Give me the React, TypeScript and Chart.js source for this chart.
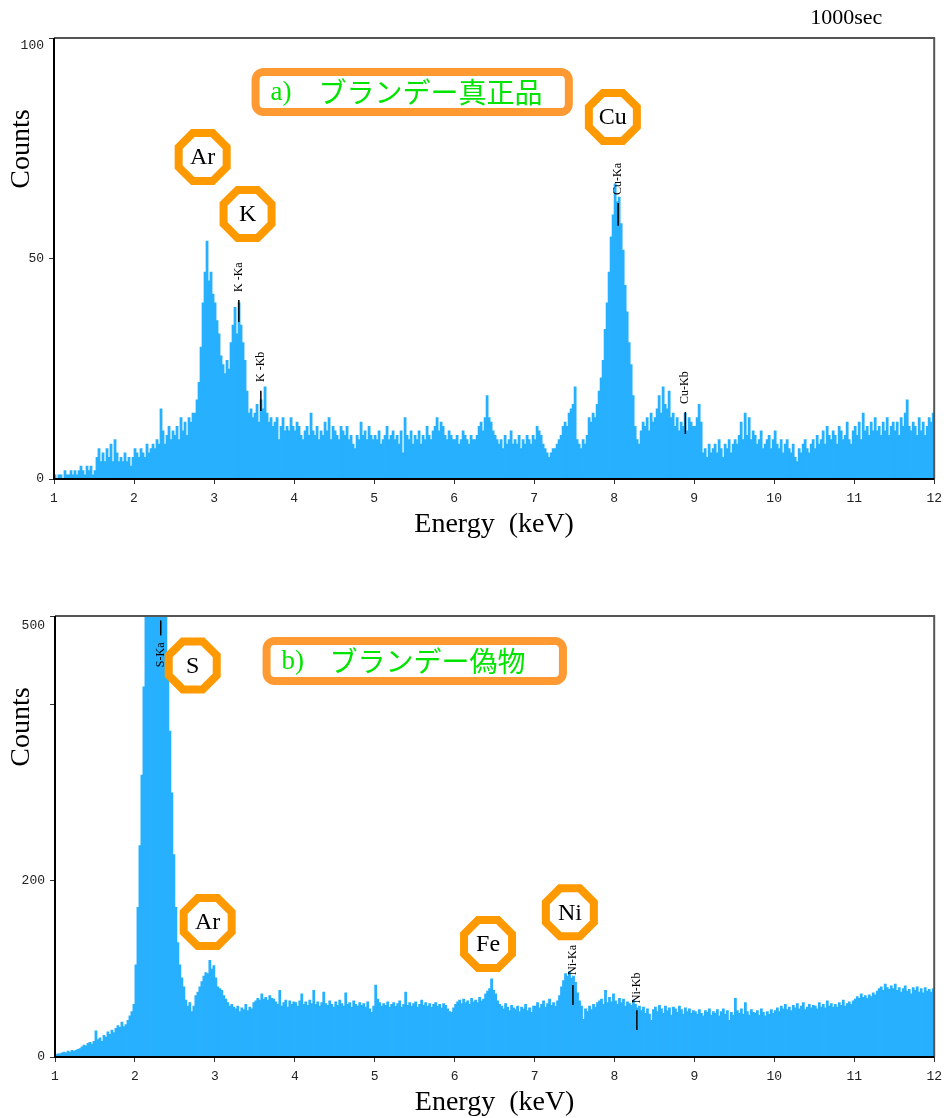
import React, { useEffect, useRef } from 'react';
import { Chart, registerables } from 'chart.js';

Chart.register(...registerables);

// ---- data ----
const binStart = 1.0;
const binWidth = 0.025; // keV per channel group
const energyTicks = [1, 2, 3, 4, 5, 6, 7, 8, 9, 10, 11, 12];

// a) genuine brandy, counts per bin (1.000 .. 11.975 keV)
const genuineCounts = [
  1, 0, 1, 1, 0, 2, 1, 1, 2, 1, 2, 1, 2, 3, 2, 1, 3, 2, 3, 1,
  2, 5, 7, 4, 6, 4, 7, 5, 8, 4, 9, 6, 4, 5, 4, 6, 4, 5, 3, 5,
  7, 6, 5, 7, 6, 5, 8, 6, 7, 8, 7, 9, 8, 16, 11, 8, 10, 12, 9, 11,
  10, 12, 9, 14, 11, 13, 10, 14, 13, 15, 15, 18, 22, 30, 40, 47, 54, 45, 47, 42,
  40, 36, 33, 28, 26, 24, 27, 25, 31, 35, 39, 33, 40, 35, 31, 27, 20, 15, 16, 14,
  15, 17, 13, 18, 16, 21, 15, 13, 14, 12, 13, 14, 9, 12, 14, 11, 12, 11, 14, 12,
  11, 13, 12, 10, 9, 11, 12, 10, 15, 11, 10, 12, 9, 11, 10, 13, 11, 14, 9, 12,
  11, 10, 9, 12, 11, 10, 12, 9, 10, 8, 7, 10, 9, 13, 10, 11, 9, 12, 10, 9,
  10, 9, 11, 8, 9, 10, 12, 9, 10, 11, 9, 10, 8, 11, 6, 14, 10, 9, 11, 8,
  10, 9, 11, 8, 10, 9, 12, 10, 9, 11, 12, 14, 11, 13, 12, 10, 9, 11, 10, 9,
  9, 10, 8, 9, 11, 10, 9, 8, 10, 9, 9, 10, 12, 13, 11, 14, 19, 14, 13, 11,
  10, 9, 8, 9, 7, 10, 8, 9, 11, 8, 9, 8, 10, 7, 9, 8, 10, 9, 8, 10,
  9, 12, 11, 10, 8, 7, 6, 5, 6, 7, 7, 8, 9, 10, 12, 13, 12, 15, 16, 17,
  21, 9, 8, 7, 9, 8, 10, 14, 13, 15, 14, 17, 20, 23, 27, 34, 40, 47, 55, 60,
  67, 63, 64, 58, 52, 44, 38, 31, 26, 19, 12, 9, 8, 11, 13, 12, 14, 11, 15, 13,
  14, 16, 19, 15, 21, 17, 16, 20, 14, 15, 12, 14, 11, 13, 12, 15, 11, 14, 13, 12,
  12, 14, 17, 13, 6, 7, 5, 8, 6, 7, 8, 6, 9, 7, 5, 8, 7, 9, 6, 8,
  9, 8, 10, 13, 9, 15, 10, 14, 9, 11, 10, 8, 9, 11, 7, 8, 9, 10, 7, 9,
  11, 8, 7, 9, 6, 8, 9, 7, 6, 8, 5, 4, 7, 6, 8, 9, 7, 6, 8, 9,
  7, 10, 8, 9, 11, 8, 12, 10, 9, 11, 10, 8, 12, 11, 9, 10, 13, 9, 8, 11,
  12, 10, 13, 9, 15, 11, 12, 10, 13, 11, 14, 11, 12, 10, 13, 11, 14, 10, 12, 13,
  11, 13, 10, 14, 12, 15, 18, 12, 11, 13, 12, 10, 14, 11, 13, 10, 12, 14, 13, 15,
];

// b) counterfeit brandy, counts per bin (S peak saturates above 500)
const fakeCounts = [
  3, 4, 4, 5, 6, 5, 7, 6, 8, 7, 8, 9, 10, 12, 14, 13, 16, 17, 15, 18,
  30, 20, 22, 18, 25, 23, 29, 26, 31, 28, 33, 36, 34, 40, 35, 37, 42, 47, 52, 60,
  105, 170, 240, 320, 420, 900, 1500, 2200, 2800, 3000, 3100, 2900, 2500, 1800, 1200, 700, 450, 370, 300, 230,
  170, 130, 105, 90, 80, 65, 58, 62, 52, 58, 70, 74, 80, 86, 92, 96, 95, 110, 100, 104,
  90, 80, 78, 76, 70, 66, 62, 58, 60, 57, 55, 58, 52, 56, 54, 60, 53, 57, 55, 62,
  64, 67, 65, 72, 66, 68, 65, 70, 67, 66, 63, 60, 76, 58, 62, 65, 57, 64, 60, 63,
  62, 58, 64, 72, 60, 63, 59, 65, 61, 76, 60, 63, 58, 62, 74, 61, 59, 64, 60, 57,
  63, 59, 65, 61, 58, 73, 60, 62, 57, 64, 60, 58, 62, 59, 61, 57, 63, 55, 51, 58,
  82, 66, 62, 58, 61, 59, 63, 57, 60, 62, 58, 61, 64, 57, 60, 74, 59, 62, 58, 61,
  63, 57, 60, 65, 59, 62, 58, 61, 57, 60, 62, 58, 60, 56, 61, 59, 55, 52, 51, 56,
  60, 63, 65, 61, 66, 62, 64, 60, 67, 63, 65, 62, 68, 64, 66, 72, 75, 78, 89, 76,
  72, 64, 60, 58, 55, 61, 57, 53, 59, 56, 54, 58, 52, 57, 55, 60, 53, 56, 51, 58,
  58, 62, 56, 60, 64, 57, 61, 66, 59, 62, 58, 64, 70, 80, 87, 95, 92, 97, 90, 92,
  85, 73, 64, 58, 43, 55, 52, 58, 54, 60, 57, 62, 64, 66, 60, 76, 62, 68, 63, 72,
  64, 60, 67, 62, 66, 58, 63, 61, 59, 65, 60, 56, 58, 53, 57, 50, 55, 49, 42, 54,
  57, 52, 59, 55, 50, 58, 53, 56, 48, 57, 55, 51, 58, 54, 49, 56, 52, 55, 50, 53,
  52, 49, 54, 50, 47, 53, 51, 55, 48, 52, 50, 54, 47, 52, 55, 49, 53, 42, 51, 48,
  67, 53, 50, 55, 49, 62, 52, 48, 54, 51, 50, 53, 48, 55, 51, 47, 52, 49, 54, 50,
  53, 56, 52, 58, 55, 60, 54, 57, 53, 59, 56, 61, 55, 58, 62, 54, 57, 60, 56, 59,
  58, 55, 62, 57, 60, 56, 64, 58, 61, 57, 60, 57, 62, 59, 65, 58, 61, 63, 60, 64,
  66, 69, 67, 72, 68, 70, 67, 71, 69, 73, 71, 75, 78, 80, 76, 83, 79, 77, 81, 78,
  83, 76, 79, 74, 78, 81, 75, 77, 72, 79, 76, 80, 74, 78, 73, 79, 75, 77, 74, 78,
];

const genuineYTicks = [0, 50, 100];
const fakeYTicks = [0, 200, 400, 500];
const fakeYTickLabels = ['0', '200', '', '500'];

const genuineElements = [
  { label: 'Ar', e: 2.858, c: 73.0 },
  { label: 'K', e: 3.419, c: 60.1 },
  { label: 'Cu', e: 7.984, c: 82.1 },
];
const fakeElements = [
  { label: 'S', e: 2.723, c: 444 },
  { label: 'Ar', e: 2.91, c: 153 },
  { label: 'Fe', e: 6.418, c: 128 },
  { label: 'Ni', e: 7.442, c: 164 },
];

const genuineLines = [
  { label: 'K -Ka', e: 3.31, lo: 35.6, hi: 40.6, text: 42.4 },
  { label: 'K -Kb', e: 3.585, lo: 15.4, hi: 20.0, text: 22.0 },
  { label: 'Cu-Ka', e: 8.05, lo: 57.4, hi: 62.6, text: 64.4 },
  { label: 'Cu-Kb', e: 8.89, lo: 10.2, hi: 15.2, text: 17.0 },
];
const fakeLines = [
  { label: 'S-Ka', e: 2.323, lo: 478, hi: 495, text: 442 },
  { label: 'Ni-Ka', e: 7.48, lo: 59, hi: 81.6, text: 93 },
  { label: 'Ni-Kb', e: 8.28, lo: 30.6, hi: 53, text: 61 },
];

const genuineTitle = { prefix: 'a)', text: 'ブランデー真正品', e0: 3.519, e1: 7.434, cTop: 92.3, cBot: 83.2 };
const fakeTitle = { prefix: 'b)', text: 'ブランデー偽物', e0: 3.647, e1: 7.355, cTop: 471.7, cBot: 426.3 };

// ---- helpers ----
const BAR = '#27B0FE';
const OCT = '#FF9900';
const BOX = '#FF9A33';
const GREEN = '#00E400';
const SERIF = '"Liberation Serif", "DejaVu Serif", serif';
const MONO = '"Liberation Mono", "DejaVu Sans Mono", monospace';
const JP = '"Noto Sans CJK JP", "Noto Sans CJK SC", sans-serif';

function octagonPath(ctx: CanvasRenderingContext2D, cx: number, cy: number, apothem: number) {
  const R = apothem / Math.cos(Math.PI / 8);
  ctx.beginPath();
  for (let k = 0; k < 8; k++) {
    const a = Math.PI / 8 + (k * Math.PI) / 4;
    const px = cx + R * Math.cos(a);
    const py = cy + R * Math.sin(a);
    if (k === 0) ctx.moveTo(px, py);
    else ctx.lineTo(px, py);
  }
  ctx.closePath();
}

function roundRectPath(ctx: CanvasRenderingContext2D, x0: number, y0: number, x1: number, y1: number, r: number) {
  ctx.beginPath();
  ctx.moveTo(x0 + r, y0);
  ctx.lineTo(x1 - r, y0);
  ctx.arcTo(x1, y0, x1, y0 + r, r);
  ctx.lineTo(x1, y1 - r);
  ctx.arcTo(x1, y1, x1 - r, y1, r);
  ctx.lineTo(x0 + r, y1);
  ctx.arcTo(x0, y1, x0, y1 - r, r);
  ctx.lineTo(x0, y0 + r);
  ctx.arcTo(x0, y0, x0 + r, y0, r);
  ctx.closePath();
}

type Cfg = {
  counts: number[];
  yMax: number;
  yTicks: number[];
  yLabels: string[];
  yWidth: number;
  padding: { left: number; right: number; top: number; bottom: number };
  elements: { label: string; e: number; c: number }[];
  lines: { label: string; e: number; lo: number; hi: number; text: number }[];
  title: { prefix: string; text: string; e0: number; e1: number; cTop: number; cBot: number };
  maxLabelOffset: number;
  showTime: boolean;
};

function makeOverlay(cfg: Cfg) {
  return {
    id: 'overlay',
    afterDatasetsDraw(chart: any) {
      const { ctx, chartArea: a } = chart;
      const x = chart.scales.x;
      const y = chart.scales.y;
      ctx.save();

      // frame
      ctx.lineWidth = 2;
      ctx.strokeStyle = '#555';
      ctx.beginPath();
      ctx.moveTo(a.left, a.top);
      ctx.lineTo(a.right, a.top);
      ctx.lineTo(a.right, a.bottom);
      ctx.stroke();
      ctx.strokeStyle = '#000';
      ctx.beginPath();
      ctx.moveTo(a.left, a.top);
      ctx.lineTo(a.left, a.bottom);
      ctx.lineTo(a.right, a.bottom);
      ctx.stroke();

      // top y label (drawn slightly below its tick, as in the original)
      ctx.fillStyle = '#222';
      ctx.font = `13px ${MONO}`;
      ctx.textAlign = 'right';
      ctx.textBaseline = 'middle';
      ctx.fillText(cfg.yLabels[cfg.yLabels.length - 1], a.left - 10, y.getPixelForValue(cfg.yMax) + cfg.maxLabelOffset);

      // axis titles
      ctx.fillStyle = '#000';
      ctx.font = `28px ${SERIF}`;
      ctx.textAlign = 'center';
      ctx.textBaseline = 'middle';
      ctx.fillText('Energy  (keV)', (a.left + a.right) / 2, a.bottom + 46);
      ctx.save();
      ctx.translate(22, a.top + 111);
      ctx.rotate(-Math.PI / 2);
      ctx.fillText('Counts', 0, 0);
      ctx.restore();

      if (cfg.showTime) {
        ctx.font = `22px ${SERIF}`;
        ctx.fillText('1000sec', a.right - 88, a.top - 20);
      }

      // emission-line markers
      cfg.lines.forEach((m) => {
        const px = x.getPixelForValue(m.e);
        ctx.strokeStyle = '#000';
        ctx.lineWidth = 1.5;
        ctx.beginPath();
        ctx.moveTo(px, y.getPixelForValue(m.lo));
        ctx.lineTo(px, y.getPixelForValue(m.hi));
        ctx.stroke();
        ctx.save();
        ctx.translate(px, y.getPixelForValue(m.text));
        ctx.rotate(-Math.PI / 2);
        ctx.font = `12px ${SERIF}`;
        ctx.fillStyle = '#000';
        ctx.textAlign = 'left';
        ctx.textBaseline = 'middle';
        ctx.fillText(m.label, 0, 0);
        ctx.restore();
      });

      // element octagons
      cfg.elements.forEach((el) => {
        const cx = x.getPixelForValue(el.e);
        const cy = y.getPixelForValue(el.c);
        octagonPath(ctx, cx, cy, 24);
        ctx.fillStyle = '#fff';
        ctx.fill();
        ctx.strokeStyle = OCT;
        ctx.lineWidth = 8;
        ctx.lineJoin = 'miter';
        ctx.stroke();
        ctx.fillStyle = '#000';
        ctx.font = `24px ${SERIF}`;
        ctx.textAlign = 'center';
        ctx.textBaseline = 'middle';
        ctx.fillText(el.label, cx, cy + 1);
      });

      // sample title box
      const t = cfg.title;
      const bx0 = x.getPixelForValue(t.e0);
      const bx1 = x.getPixelForValue(t.e1);
      const by0 = y.getPixelForValue(t.cTop);
      const by1 = y.getPixelForValue(t.cBot);
      roundRectPath(ctx, bx0, by0, bx1, by1, 8);
      ctx.fillStyle = '#fff';
      ctx.fill();
      ctx.strokeStyle = BOX;
      ctx.lineWidth = 8;
      ctx.stroke();
      const cy = (by0 + by1) / 2;
      ctx.fillStyle = GREEN;
      ctx.textAlign = 'left';
      ctx.textBaseline = 'middle';
      ctx.font = `27px ${SERIF}`;
      ctx.fillText(t.prefix, bx0 + 15, cy + 1);
      ctx.font = `28px ${JP}`;
      ctx.fillText(t.text, bx0 + 63, cy);

      ctx.restore();
    },
  };
}

function buildChart(canvas: HTMLCanvasElement, cfg: Cfg) {
  const points = cfg.counts.map((c, i) => ({ x: binStart + (i + 0.5) * binWidth, y: c }));
  return new Chart(canvas, {
    type: 'bar',
    data: {
      datasets: [
        {
          data: points as any,
          backgroundColor: BAR,
          borderWidth: 0,
          barPercentage: 1.4,
          categoryPercentage: 1,
        },
      ],
    },
    options: {
      responsive: false,
      animation: false,
      devicePixelRatio: 1,
      events: [],
      layout: { padding: cfg.padding },
      plugins: { legend: { display: false }, tooltip: { enabled: false }, title: { display: false } },
      scales: {
        x: {
          type: 'linear',
          min: 1,
          max: 12,
          offset: false,
          afterBuildTicks: (s: any) => {
            s.ticks = energyTicks.map((v) => ({ value: v }));
          },
          afterFit: (s: any) => {
            s.height = 30;
          },
          ticks: {
            autoSkip: false,
            maxRotation: 0,
            padding: 7,
            color: '#222',
            font: { family: MONO, size: 13 },
            callback: (v: any) => String(v),
          },
          grid: { display: true, drawOnChartArea: false, drawTicks: true, tickLength: 5, color: '#333', offset: false },
          border: { display: false },
        },
        y: {
          type: 'linear',
          min: 0,
          max: cfg.yMax,
          afterBuildTicks: (s: any) => {
            s.ticks = cfg.yTicks.map((v) => ({ value: v }));
          },
          afterFit: (s: any) => {
            s.width = cfg.yWidth;
          },
          ticks: {
            padding: 5,
            color: '#222',
            font: { family: MONO, size: 13 },
            callback: (v: any) => {
              const i = cfg.yTicks.indexOf(Number(v));
              if (i === cfg.yTicks.length - 1) return '';
              return i >= 0 ? cfg.yLabels[i] : '';
            },
          },
          grid: { display: true, drawOnChartArea: false, drawTicks: true, tickLength: 5, color: '#333' },
          border: { display: false },
        },
      },
    },
    plugins: [makeOverlay(cfg)],
  });
}

export default function App() {
  const topRef = useRef<HTMLCanvasElement>(null);
  const botRef = useRef<HTMLCanvasElement>(null);

  useEffect(() => {
    const c1 = buildChart(topRef.current!, {
      counts: genuineCounts,
      yMax: 100,
      yTicks: genuineYTicks,
      yLabels: genuineYTicks.map(String),
      yWidth: 54,
      padding: { left: 0, right: 13, top: 38, bottom: 51 },
      elements: genuineElements,
      lines: genuineLines,
      title: genuineTitle,
      maxLabelOffset: 8,
      showTime: true,
    });
    const c2 = buildChart(botRef.current!, {
      counts: fakeCounts,
      yMax: 500,
      yTicks: fakeYTicks,
      yLabels: fakeYTickLabels,
      yWidth: 55,
      padding: { left: 0, right: 13, top: 56, bottom: 31 },
      elements: fakeElements,
      lines: fakeLines,
      title: fakeTitle,
      maxLabelOffset: 10,
      showTime: false,
    });
    return () => {
      c1.destroy();
      c2.destroy();
    };
  }, []);

  return (
    <div style={{ position: 'absolute', left: 0, top: 0, width: 949, height: 1118, background: '#fff', overflow: 'hidden' }}>
      <canvas ref={topRef} width={949} height={560} style={{ position: 'absolute', left: 0, top: 0, width: 949, height: 560 }} />
      <canvas ref={botRef} width={949} height={558} style={{ position: 'absolute', left: 0, top: 560, width: 949, height: 558 }} />
    </div>
  );
}
